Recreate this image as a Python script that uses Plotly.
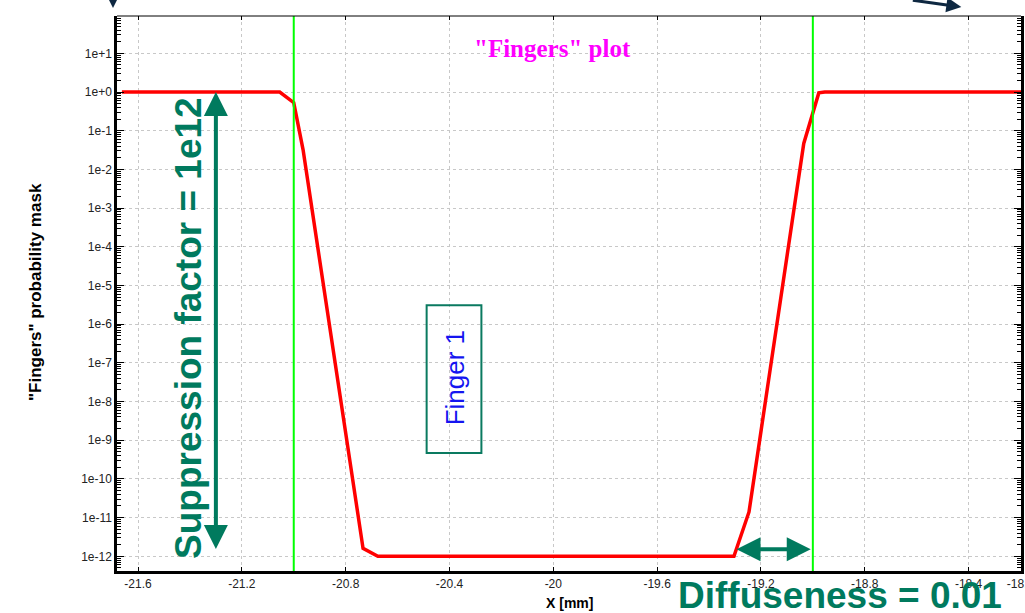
import plotly.graph_objects as go

# "Fingers" probability mask profile across the finger (x in mm)
x_mm = [-21.662, -21.054, -21.000, -20.964, -20.733, -20.676,
        -19.304, -19.246, -19.035, -18.977, -18.954, -18.198]
mask = [1.0, 1.0, 0.53, 3.2e-2, 1.6e-12, 1.0e-12,
        1.0e-12, 1.4e-11, 4.7e-2, 0.95, 1.0, 1.0]

# nominal finger edges
finger_edges = [-21.0, -19.0]

x_tick_vals = [-21.6, -21.2, -20.8, -20.4, -20.0, -19.6, -19.2, -18.8, -18.4, -18.2]
x_tick_text = ["-21.6", "-21.2", "-20.8", "-20.4", "-20", "-19.6",
               "-19.2", "-18.8", "-18.4", "-18.2"]
y_exponents = [1, 0, -1, -2, -3, -4, -5, -6, -7, -8, -9, -10, -11, -12]
y_tick_text = ["1e+1", "1e+0", "1e-1", "1e-2", "1e-3", "1e-4", "1e-5",
               "1e-6", "1e-7", "1e-8", "1e-9", "1e-10", "1e-11", "1e-12"]
y_tick_vals = [10.0 ** e for e in y_exponents]
y_minor_vals = [m * 10.0 ** e for e in range(-13, 2) for m in range(2, 10)]

TEAL = "#007a5e"
NAVY = "#0e2841"
SANS = "Liberation Sans, Arial, sans-serif"

X_RANGE = [-21.681, -18.198]
Y_RANGE = [-12.38, 1.965]

fig = go.Figure()

fig.add_trace(go.Scatter(
    x=x_mm, y=mask, mode="lines",
    line=dict(color="#ff0000", width=3.5),
    showlegend=False, hoverinfo="skip",
))
# carrier for the top tick marks
fig.add_trace(go.Scatter(x=[], y=[], xaxis="x2", showlegend=False))

for xe in finger_edges:
    fig.add_shape(type="line", xref="x", yref="paper",
                  x0=xe, x1=xe, y0=0, y1=1,
                  line=dict(color="#00ff00", width=2), layer="above")

# top frame line (thin)
fig.add_shape(type="line", xref="paper", yref="paper",
              x0=0, x1=1, y0=1, y1=1, line=dict(color="black", width=1))

# "Finger 1" box
fig.add_shape(type="rect", xref="x", yref="paper",
              x0=-20.488, x1=-20.277, y0=0.2126, y1=0.479,
              line=dict(color="#0a7a60", width=2), fillcolor="rgba(0,0,0,0)")


def label(x, y, text, size, color, family=SANS, angle=0, xref="paper", yref="paper"):
    fig.add_annotation(x=x, y=y, xref=xref, yref=yref, text=text,
                       textangle=angle, showarrow=False,
                       xanchor="center", yanchor="middle",
                       font=dict(family=family, size=size, color=color))


label(-20.378, 0.3475, "Finger 1", 26, "#1515f0", angle=-90, xref="x")
label(0.4823, 0.942, '<b>"Fingers" plot</b>', 25, "#ff00ff",
      family="Liberation Serif, Times New Roman, serif")
label(-0.0907, 0.5027, '<b>"Fingers" probability mask</b>', 17, "black", angle=-90)
label(0.5, -0.058, "<b>X [mm]</b>", 14, "black")

# suppression factor: double arrow from 1 down to 1e-12
fig.add_annotation(x=-21.3, y=0.0, xref="x", yref="y",
                   ax=-21.3, ay=-11.85, axref="x", ayref="y",
                   text="", showarrow=True, arrowside="end+start",
                   arrowhead=2, startarrowhead=2, arrowsize=1.2, startarrowsize=1.2,
                   arrowwidth=4, arrowcolor=TEAL)
label(0.0785, 0.4378, "<b>Suppression factor = 1e12</b>", 37, TEAL, angle=-90)

# diffuseness: double arrow between the ramp foot and the finger edge
fig.add_annotation(x=-19.008, y=-11.82, xref="x", yref="y",
                   ax=-19.3, ay=-11.82, axref="x", ayref="y",
                   text="", showarrow=True, arrowside="end+start",
                   arrowhead=2, startarrowhead=2, arrowsize=1.2, startarrowsize=1.2,
                   arrowwidth=4, arrowcolor=TEAL)
label(0.7998, -0.045, "<b>Diffuseness = 0.01</b>", 37, TEAL)

# pointer arrows entering from above
fig.add_annotation(x=-0.0044, y=1.0144, xref="paper", yref="paper",
                   ax=0, ay=-30, text="", showarrow=True, arrowhead=2,
                   arrowsize=1, arrowwidth=3, arrowcolor=NAVY)
fig.add_annotation(x=0.934, y=1.0162, xref="paper", yref="paper",
                   ax=-50, ay=-8, text="", showarrow=True, arrowhead=2,
                   arrowsize=1, arrowwidth=3, arrowcolor=NAVY)

fig.update_layout(
    width=1025, height=613,
    margin=dict(l=117, r=4, t=16, b=42, autoexpand=False),
    paper_bgcolor="white", plot_bgcolor="white",
    font=dict(family=SANS, size=12, color="#222"),
    xaxis=dict(
        range=X_RANGE, tickvals=x_tick_vals, ticktext=x_tick_text,
        showline=True, linecolor="black", linewidth=2.5, mirror=False,
        ticks="inside", ticklen=4, tickcolor="black",
        ticklabeloverflow="allow", automargin=False,
        showgrid=True, gridcolor="#c8c8c8", gridwidth=1, griddash="3px,3px",
        zeroline=False, tickfont=dict(size=12, color="#222"),
    ),
    xaxis2=dict(
        overlaying="x", side="top", matches="x", range=X_RANGE,
        tickvals=x_tick_vals, showticklabels=False,
        ticks="inside", ticklen=4, tickcolor="black",
        showgrid=False, showline=False, zeroline=False, automargin=False,
    ),
    yaxis=dict(
        type="log", range=Y_RANGE, tickvals=y_tick_vals, ticktext=y_tick_text,
        showline=True, linecolor="black", linewidth=2.5, mirror="ticks",
        ticks="inside", ticklen=7, tickcolor="black", automargin=False,
        minor=dict(tickvals=y_minor_vals, ticks="inside", ticklen=4,
                   tickcolor="black", showgrid=False),
        showgrid=True, gridcolor="#c8c8c8", gridwidth=1, griddash="3px,3px",
        zeroline=False, tickfont=dict(size=12, color="#222"),
    ),
)

fig.write_html("out.html")
